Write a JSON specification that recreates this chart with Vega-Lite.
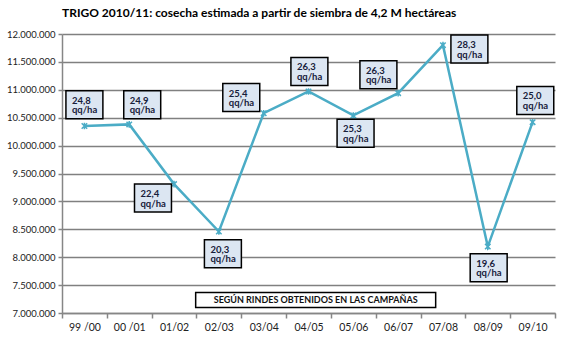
{
  "$schema": "https://vega.github.io/schema/vega-lite/v6.json",
  "width": 493,
  "height": 279,
  "autosize": {"type": "none"},
  "padding": {"left": 62, "top": 34, "right": 8, "bottom": 29},
  "background": "white",
  "config": {
    "locale": {"number": {"decimal": ",", "thousands": ".", "grouping": [3], "currency": ["$", ""]}},
    "view": {"stroke": null},
    "font": "Lato",
    "axisY": {
      "labelFontSize": 9.5, "labelColor": "#222222", "labelPadding": 3,
      "tickSize": 4, "tickColor": "#868686", "tickWidth": 1.5,
      "domainColor": "#868686", "domainWidth": 1.5,
      "grid": true, "gridColor": "#808080", "gridWidth": 1.6
    }
  },
  "title": {
    "text": "TRIGO 2010/11: cosecha estimada a partir de siembra de 4,2 M hectáreas",
    "anchor": "start",
    "frame": "group",
    "fontSize": 12,
    "fontWeight": "bold",
    "font": "Lato",
    "color": "#000000",
    "offset": -3,
    "baseline": "bottom"
  },
  "data": {
    "values": [
      {"camp": "99 /00", "prod": 10350000, "rinde": "24,8", "lx": 0.0, "ly": 10730000},
      {"camp": "00 /01", "prod": 10380000, "rinde": "24,9", "lx": 1.29, "ly": 10730000},
      {"camp": "01/02", "prod": 9310000, "rinde": "22,4", "lx": 1.53, "ly": 9060000},
      {"camp": "02/03", "prod": 8460000, "rinde": "20,3", "lx": 3.09, "ly": 8060000},
      {"camp": "03/04", "prod": 10580000, "rinde": "25,4", "lx": 3.5, "ly": 10860000},
      {"camp": "04/05", "prod": 10970000, "rinde": "26,3", "lx": 5.02, "ly": 11330000},
      {"camp": "05/06", "prod": 10540000, "rinde": "25,3", "lx": 6.05, "ly": 10220000},
      {"camp": "06/07", "prod": 10940000, "rinde": "26,3", "lx": 6.56, "ly": 11270000},
      {"camp": "07/08", "prod": 11800000, "rinde": "28,3", "lx": 8.59, "ly": 11730000},
      {"camp": "08/09", "prod": 8190000, "rinde": "19,6", "lx": 9.02, "ly": 7810000},
      {"camp": "09/10", "prod": 10420000, "rinde": "25,0", "lx": 10.06, "ly": 10810000}
    ]
  },
  "layer": [
    {
      "encoding": {
        "x": {
          "field": "camp", "type": "nominal", "sort": null,
          "scale": {"type": "band", "paddingInner": 0, "paddingOuter": 0},
          "axis": {
            "title": null, "tickBand": "extent", "labelAngle": 0,
            "tickSize": 5, "tickColor": "#868686", "tickWidth": 1.5,
            "domainColor": "#868686", "domainWidth": 1.5,
            "labelFontSize": 10.5, "labelColor": "#222222", "labelPadding": 4,
            "grid": false
          }
        },
        "y": {
          "field": "prod", "type": "quantitative", "title": null,
          "scale": {"domain": [7000000, 12000000], "nice": false, "zero": false},
          "axis": {"title": null, "values": [7000000, 7500000, 8000000, 8500000, 9000000, 9500000, 10000000, 10500000, 11000000, 11500000, 12000000], "format": ",d"}
        }
      },
      "layer": [
        {"mark": {"type": "line", "color": "#4bacc6", "strokeWidth": 2.5}},
        {"mark": {"type": "point", "shape": "M-1,-1L1,1M-1,1L1,-1M0,-1.2L0,1.2", "filled": false, "stroke": "#4bacc6", "strokeWidth": 1.5, "size": 30, "opacity": 1}}
      ]
    },
    {
      "layer": [
        {
          "mark": {"type": "point", "shape": "M-1.32,-1H1.32V1H-1.32Z", "filled": true, "fill": "#dce6f2", "stroke": "#000000", "strokeWidth": 1.5, "size": 784, "opacity": 1},
          "encoding": {
            "x": {"field": "lx", "type": "quantitative", "scale": {"domain": [-0.5, 10.5], "nice": false, "zero": false}, "axis": null},
            "y": {"field": "ly", "type": "quantitative", "title": null, "scale": {"domain": [7000000, 12000000], "nice": false, "zero": false}, "axis": {"title": null, "values": [7000000, 7500000, 8000000, 8500000, 9000000, 9500000, 10000000, 10500000, 11000000, 11500000, 12000000], "format": ",d"}}
          }
        },
        {
          "mark": {"type": "text", "align": "left", "baseline": "alphabetic", "dx": -12.5, "dy": -1, "fontSize": 9.5, "fontWeight": "bold", "color": "#17203a"},
          "encoding": {
            "x": {"field": "lx", "type": "quantitative", "scale": {"domain": [-0.5, 10.5], "nice": false, "zero": false}, "axis": null},
            "y": {"field": "ly", "type": "quantitative", "title": null, "scale": {"domain": [7000000, 12000000], "nice": false, "zero": false}, "axis": {"title": null, "values": [7000000, 7500000, 8000000, 8500000, 9000000, 9500000, 10000000, 10500000, 11000000, 11500000, 12000000], "format": ",d"}},
            "text": {"field": "rinde"}
          }
        },
        {
          "mark": {"type": "text", "align": "left", "baseline": "alphabetic", "dx": -12.5, "dy": 8.5, "fontSize": 9.5, "fontWeight": "bold", "color": "#17203a"},
          "encoding": {
            "x": {"field": "lx", "type": "quantitative", "scale": {"domain": [-0.5, 10.5], "nice": false, "zero": false}, "axis": null},
            "y": {"field": "ly", "type": "quantitative", "title": null, "scale": {"domain": [7000000, 12000000], "nice": false, "zero": false}, "axis": {"title": null, "values": [7000000, 7500000, 8000000, 8500000, 9000000, 9500000, 10000000, 10500000, 11000000, 11500000, 12000000], "format": ",d"}},
            "text": {"value": "qq/ha"}
          }
        },
        {
          "data": {"values": [{"nota": "SEGÚN RINDES OBTENIDOS EN LAS CAMPAÑAS", "nx": 5.16, "ny": 7233000}]},
          "mark": {"type": "point", "shape": "M-8,-0.5H8V0.5H-8Z", "filled": true, "fill": "#ffffff", "stroke": "#000000", "strokeWidth": 1.5, "size": 900, "opacity": 1},
          "encoding": {
            "x": {"field": "nx", "type": "quantitative", "scale": {"domain": [-0.5, 10.5], "nice": false, "zero": false}, "axis": null},
            "y": {"field": "ny", "type": "quantitative", "title": null, "scale": {"domain": [7000000, 12000000], "nice": false, "zero": false}, "axis": {"title": null, "values": [7000000, 7500000, 8000000, 8500000, 9000000, 9500000, 10000000, 10500000, 11000000, 11500000, 12000000], "format": ",d"}}
          }
        },
        {
          "data": {"values": [{"nota": "SEGÚN RINDES OBTENIDOS EN LAS CAMPAÑAS", "nx": 5.16, "ny": 7233000}]},
          "mark": {"type": "text", "align": "center", "baseline": "middle", "fontSize": 9, "fontWeight": "bold", "color": "#111111"},
          "encoding": {
            "x": {"field": "nx", "type": "quantitative", "scale": {"domain": [-0.5, 10.5], "nice": false, "zero": false}, "axis": null},
            "y": {"field": "ny", "type": "quantitative", "title": null, "scale": {"domain": [7000000, 12000000], "nice": false, "zero": false}, "axis": {"title": null, "values": [7000000, 7500000, 8000000, 8500000, 9000000, 9500000, 10000000, 10500000, 11000000, 11500000, 12000000], "format": ",d"}},
            "text": {"field": "nota"}
          }
        }
      ]
    }
  ],
  "resolve": {"scale": {"x": "independent"}}
}
